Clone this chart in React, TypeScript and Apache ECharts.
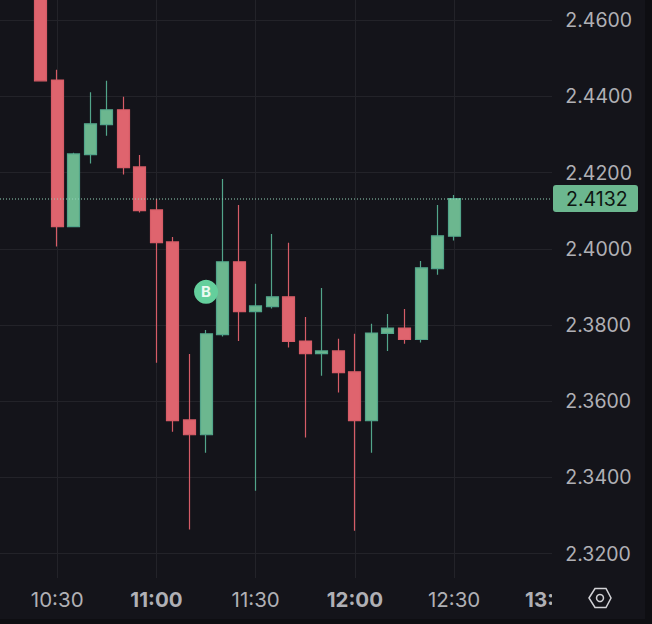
import React, { useEffect, useRef } from "react";
import * as echarts from "echarts";

const categories = [
  "10:10","10:15","10:20","10:25","10:30","10:35","10:40","10:45","10:50","10:55",
  "11:00","11:05","11:10","11:15","11:20","11:25","11:30","11:35","11:40","11:45",
  "11:50","11:55","12:00","12:05","12:10","12:15","12:20","12:25","12:30","12:35",
  "12:40","12:45","12:50","12:55","13:00",
];
const candleTimes = [
  "10:25","10:30","10:35","10:40","10:45","10:50","10:55","11:00","11:05","11:10","11:15","11:20","11:25",
  "11:30","11:35","11:40","11:45","11:50","11:55","12:00","12:05","12:10","12:15","12:20","12:25","12:30",
];
const opens = [2.4700,2.4443,2.4058,2.4247,2.4326,2.4365,2.4215,2.4102,2.4018,2.3551,2.3512,2.3775,2.3966,
  2.3835,2.3848,2.3874,2.3758,2.3725,2.3732,2.3677,2.3549,2.3778,2.3792,2.3762,2.3948,2.4033];
const closes = [2.4441,2.4058,2.4249,2.4328,2.4365,2.4213,2.4100,2.4016,2.3549,2.3512,2.3777,2.3966,2.3835,
  2.3850,2.3874,2.3757,2.3725,2.3732,2.3675,2.3549,2.3779,2.3792,2.3762,2.3950,2.4034,2.4132];
const lows = [2.4441,2.4006,2.4058,2.4224,2.4297,2.4195,2.4095,2.3701,2.3520,2.3263,2.3465,2.3770,2.3758,
  2.3365,2.3843,2.3741,2.3505,2.3667,2.3623,2.3260,2.3465,2.3732,2.3751,2.3754,2.3932,2.4022];
const highs = [2.4700,2.4470,2.4252,2.4411,2.4441,2.4399,2.4246,2.4131,2.4031,2.3724,2.3787,2.4183,2.4115,
  2.3908,2.4039,2.4016,2.3821,2.3897,2.3764,2.3777,2.3803,2.3829,2.3842,2.3968,2.4115,2.4141];
const priceTicks = [2.32,2.34,2.36,2.38,2.40,2.42,2.44,2.46];
const lastPrice = 2.4132;
const buyMarker = { time: "11:15", price: 2.3887, label: "B" };
const axisMin = 2.3136;
const axisMax = 2.4653;

const FONT = "Inter";
const BG = "#14141a";
const RED = "#df646e";
const RED_EDGE = "#d65c67";
const GREEN = "#6cb78f";
const GREEN_EDGE = "#52a58a";
const GRID = "#232329";
const TEXT = "#b0b0b5";

const isMajor = (v: string) => v.endsWith(":00") || v.endsWith(":30");
const showTick = (_: number, v: string) => isMajor(v);

export default function App() {
  const ref = useRef<HTMLDivElement>(null);
  useEffect(() => {
    const chart = echarts.init(ref.current!, null, { renderer: "svg", width: 652, height: 624 });
    const candleData = categories.map((c) => {
      const i = candleTimes.indexOf(c);
      return i < 0 ? ["-", "-", "-", "-"] : [opens[i], closes[i], lows[i], highs[i]];
    });
    chart.setOption({
      animation: false,
      backgroundColor: BG,
      grid: {
        left: -8.95,
        right: 652 - 553.35,
        top: 0,
        bottom: 624 - 578,
        containLabel: false,
        outerBoundsMode: "none",
      },
      xAxis: {
        type: "category",
        data: categories,
        boundaryGap: false,
        z: 0,
        axisLine: { show: false },
        axisTick: { show: false },
        axisLabel: {
          interval: showTick,
          margin: 11,
          color: TEXT,
          fontFamily: FONT,
          fontSize: 20.5,
          formatter: (v: string) => (v.endsWith(":00") ? `{b|${v}}` : v),
          rich: { b: { fontFamily: FONT, fontSize: 20.5, fontWeight: 700, color: TEXT } },
        },
        splitLine: { show: true, interval: showTick, lineStyle: { color: GRID, width: 1 } },
      },
      yAxis: [
        {
          type: "value",
          position: "right",
          min: axisMin,
          max: axisMax,
          z: 0,
          axisLine: { show: false },
          axisTick: { show: false, customValues: priceTicks },
          axisLabel: { show: false },
          splitLine: { show: true, lineStyle: { color: GRID, width: 1 } },
        },
        {
          type: "value",
          position: "right",
          min: axisMin,
          max: axisMax,
          z: 4,
          axisLine: { show: false },
          axisTick: { show: false, customValues: priceTicks },
          axisLabel: {
            customValues: priceTicks,
            margin: 12,
            color: TEXT,
            fontFamily: FONT,
            fontSize: 19.5,
            formatter: (v: number) => v.toFixed(4),
          },
          splitLine: { show: false },
        },
      ],
      series: [
        {
          type: "candlestick",
          data: candleData,
          barWidth: 12.5,
          silent: true,
          z: 2,
          itemStyle: {
            color: GREEN,
            color0: RED,
            borderColor: GREEN_EDGE,
            borderColor0: RED_EDGE,
            borderWidth: 1.2,
          },
        },
        {
          type: "scatter",
          silent: true,
          z: 3,
          symbol: "circle",
          symbolSize: 24,
          itemStyle: { color: "#64cf9c", opacity: 1 },
          label: {
            show: true,
            position: "inside",
            formatter: buyMarker.label,
            color: "#ecfaf3",
            fontFamily: FONT,
            fontWeight: 700,
            fontSize: 15,
          },
          data: [[buyMarker.time, buyMarker.price]],
        },
        {
          type: "custom",
          silent: true,
          z: 6,
          clip: false,
          data: [[categories[categories.length - 1], lastPrice]],
          renderItem: (_p: any, api: any) => {
            const y = api.coord([api.value(0), api.value(1)])[1];
            return {
              type: "group",
              children: [
                {
                  type: "line",
                  shape: { x1: 0, y1: y + 0.5, x2: 552, y2: y + 0.5 },
                  style: { stroke: "#93d3b8", lineWidth: 1, lineDash: [1, 2] },
                },
                {
                  type: "rect",
                  shape: { x: 553, y: y - 13.5, width: 85, height: 27, r: 3 },
                  style: { fill: GREEN },
                },
                {
                  type: "text",
                  style: {
                    x: 566,
                    y,
                    text: lastPrice.toFixed(4),
                    fill: "#0d1512",
                    font: `19.5px ${FONT}`,
                    textAlign: "left",
                    textVerticalAlign: "middle",
                  },
                },
              ],
            };
          },
        },
      ],
      graphic: [
        { type: "rect", z: 3, silent: true, shape: { x: 552, y: 0, width: 100, height: 624 }, style: { fill: BG } },
        { type: "rect", z: 3, silent: true, shape: { x: 645, y: 0, width: 7, height: 624 }, style: { fill: "#0e0e12" } },
        { type: "rect", z: 3, silent: true, shape: { x: 0, y: 619, width: 652, height: 5 }, style: { fill: "#0e0e12" } },
        {
          type: "polygon",
          z: 5,
          silent: true,
          shape: { points: [[589, 598], [595, 588.5], [606, 588.5], [611, 598], [606, 607.5], [595, 607.5]] },
          style: { fill: "none", stroke: "#d2d2d6", lineWidth: 1.5 },
        },
        {
          type: "circle",
          z: 5,
          silent: true,
          shape: { cx: 600, cy: 598, r: 3.5 },
          style: { fill: "none", stroke: "#d2d2d6", lineWidth: 1.5 },
        },
      ],
    });
    return () => chart.dispose();
  }, []);
  return <div ref={ref} style={{ position: "fixed", left: 0, top: 0, width: 652, height: 624 }} />;
}
